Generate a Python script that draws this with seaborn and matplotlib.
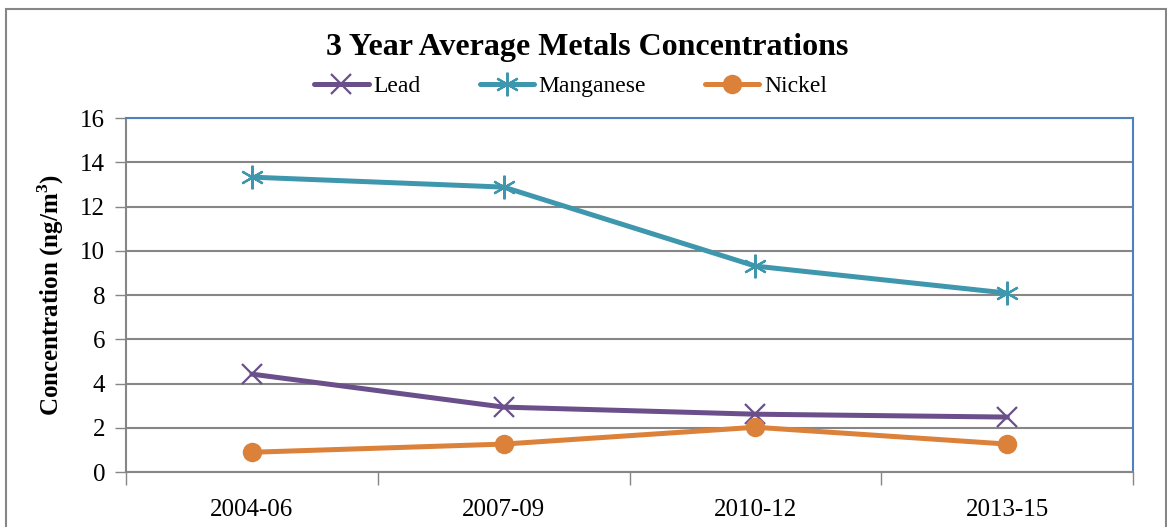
import pandas as pd
import numpy as np
import matplotlib
matplotlib.use("Agg")
import matplotlib.pyplot as plt
import matplotlib.patches as patches
import seaborn as sns

# chart data
periods = ["2004-06", "2007-09", "2010-12", "2013-15"]
lead = [4.43, 2.94, 2.62, 2.49]
manganese = [13.33, 12.88, 9.31, 8.09]
nickel = [0.90, 1.27, 2.03, 1.27]
metals = ["Lead", "Manganese", "Nickel"]
y_ticks = [0, 2, 4, 6, 8, 10, 12, 14, 16]

df = pd.DataFrame({
    "Period": periods * 3,
    "Concentration": lead + manganese + nickel,
    "Metal": np.repeat(metals, len(periods)),
})

sns.set_style("white")
plt.rcParams["font.family"] = ["Liberation Serif", "DejaVu Serif"]
plt.rcParams["mathtext.fontset"] = "custom"
plt.rcParams["mathtext.rm"] = "Liberation Serif"
plt.rcParams["mathtext.bf"] = "Liberation Serif:bold"
for key in ["text.color", "axes.labelcolor", "xtick.labelcolor", "ytick.labelcolor"]:
    plt.rcParams[key] = "black"

colors = {"Lead": "#6a4f8b", "Manganese": "#3f97ae", "Nickel": "#dc8139"}
markers = {"Lead": "x", "Manganese": (6, 2, 0), "Nickel": "o"}
sizes = {"Lead": 14, "Manganese": 17, "Nickel": 14}
grid_gray = "#868686"

fig = plt.figure(figsize=(11.67, 5.27), dpi=100)
ax = fig.add_axes([0.108, 0.104, 0.863, 0.672])

for m in metals:
    sns.lineplot(data=df[df["Metal"] == m], x="Period", y="Concentration",
                 color=colors[m], marker=markers[m], markersize=sizes[m],
                 markeredgewidth=1.6 if m != "Nickel" else 0,
                 markeredgecolor=colors[m], linewidth=3.6, label=m,
                 ax=ax, zorder=3)

ax.set_xlim(-0.5, 3.5)
ax.set_ylim(0, 16)
ax.set_yticks(y_ticks)
ax.yaxis.grid(True, color=grid_gray, linewidth=1.5)
ax.set_axisbelow(True)
ax.tick_params(axis="y", labelsize=18, length=8, width=1, color=grid_gray,
               direction="out", left=True, pad=7)
ax.set_xticks(range(len(periods)))
ax.set_xticklabels(periods)
ax.set_xticks(np.arange(-0.5, len(periods)), minor=True)
ax.tick_params(axis="x", which="major", length=0, labelsize=18, pad=19)
ax.tick_params(axis="x", which="minor", length=9, width=1, color=grid_gray,
               direction="out", bottom=True)

for side in ["left", "bottom"]:
    ax.spines[side].set_color(grid_gray)
    ax.spines[side].set_linewidth(1.5)
for side in ["top", "right"]:
    ax.spines[side].set_color("#4f81bd")
    ax.spines[side].set_linewidth(1.5)

ax.set_xlabel("")
ax.set_ylabel(r"Concentration (ng/m$^{\mathbf{3}}$)", fontsize=18,
              fontweight="bold", labelpad=10)

fig.text(0.503, 0.91, "3 Year Average Metals Concentrations", ha="center",
         va="center", fontsize=23, fontweight="bold")

ax.legend(loc="center", bbox_to_anchor=(0.489, 0.836),
          bbox_transform=fig.transFigure, ncol=3, frameon=False,
          fontsize=17, handlelength=2.3, columnspacing=2.5, handletextpad=0.2)

# outer chart border
fig.patches.append(patches.Rectangle((6 / 1167, -0.1), 1160 / 1167, 1.1 - 9 / 527,
                                     transform=fig.transFigure, fill=False,
                                     edgecolor=grid_gray, linewidth=1.5))

fig.savefig("out.png", dpi=100)
